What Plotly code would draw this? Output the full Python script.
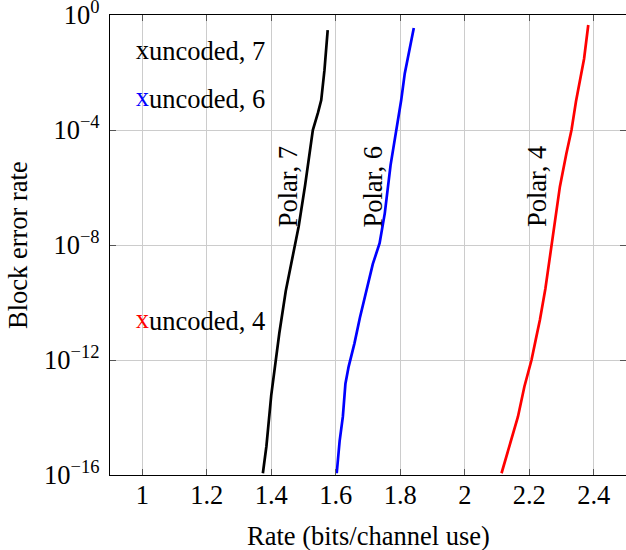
import math
import plotly.graph_objects as go

# Data
polar7_rate = [1.374, 1.385, 1.400, 1.413, 1.425, 1.445, 1.467, 1.485, 1.505, 1.529, 1.545, 1.555, 1.565, 1.575]
polar7_bler = [1.15e-16, 1e-15, 6e-14, 1e-12, 8.5e-12, 2.5e-10, 5.1e-9, 4.4e-8, 1.2e-6, 1e-4, 4e-4, 1.1e-3, 1.2e-2, 0.3]

polar6_rate = [1.603, 1.612, 1.622, 1.630, 1.640, 1.658, 1.675, 1.695, 1.715, 1.736, 1.752, 1.770, 1.788, 1.803, 1.814, 1.828, 1.842]
polar6_bler = [1.15e-16, 1.5e-15, 1.07e-14, 1.5e-13, 5.9e-13, 3.8e-12, 3e-11, 2.7e-10, 2.2e-9, 1.15e-8, 1.26e-7, 6e-6, 1e-4, 1.1e-3, 9.3e-3, 6e-2, 0.35]

polar4_rate = [2.114, 2.140, 2.165, 2.185, 2.207, 2.220, 2.233, 2.250, 2.269, 2.295, 2.315, 2.331, 2.345, 2.357, 2.370, 2.383]
polar4_bler = [1.15e-16, 1.2e-15, 1.07e-14, 1.2e-13, 1e-12, 5e-12, 2.45e-11, 3e-10, 1e-8, 1.07e-6, 1.5e-5, 1e-4, 1e-3, 5.5e-3, 3e-2, 0.45]

uncoded_labels = ["uncoded, 7", "uncoded, 6", "uncoded, 4"]
uncoded_rate = [1.0, 1.0, 1.0]
uncoded_bler = [5e-2, 1.15e-3, 2.15e-11]
uncoded_colors = ["black", "blue", "red"]

polar_labels = ["Polar, 7", "Polar, 6", "Polar, 4"]
polar_label_x = [1.451, 1.715, 2.222]
polar_label_y = [1.07e-6, 1.07e-6, 1.07e-6]

x_ticks = [1, 1.2, 1.4, 1.6, 1.8, 2, 2.2, 2.4]
x_tick_text = ["1", "1.2", "1.4", "1.6", "1.8", "2", "2.2", "2.4"]
y_ticks = [1e0, 1e-4, 1e-8, 1e-12, 1e-16]
y_tick_text = ["10<sup>0</sup>", "10<sup>−4</sup>", "10<sup>−8</sup>", "10<sup>−12</sup>", "10<sup>−16</sup>"]

FONT = "Liberation Serif"
FS = 26.5

# plot area spans x 110..626, y 15..475 in the window (body margin removed below)
L, T = 110, 15
PW, PH = 516, 460
W, H = 626, 550
R = W - L - PW
B = H - T - PH

fig = go.Figure()
for xs, ys, c in [(polar7_rate, polar7_bler, "black"),
                  (polar6_rate, polar6_bler, "blue"),
                  (polar4_rate, polar4_bler, "red")]:
    fig.add_trace(go.Scatter(x=xs, y=ys, mode="lines",
                             line=dict(color=c, width=2.7), showlegend=False))

fig.add_trace(go.Scatter(x=uncoded_rate, y=uncoded_bler, mode="text", text=["x"] * 3,
                         textposition="middle center",
                         textfont=dict(family=FONT, size=FS, color=uncoded_colors),
                         showlegend=False, cliponaxis=False))

for lab, xv, yv in zip(uncoded_labels, uncoded_rate, uncoded_bler):
    fig.add_annotation(x=xv, y=math.log10(yv), yref="y", xref="x", text=lab, showarrow=False,
                       xanchor="left", yanchor="middle", xshift=5, yshift=1,
                       font=dict(family=FONT, size=FS, color="black"))

for lab, xv, yv in zip(polar_labels, polar_label_x, polar_label_y):
    fig.add_annotation(x=xv, y=math.log10(yv), text=lab, showarrow=False, textangle=-90,
                       xanchor="center", yanchor="middle",
                       font=dict(family=FONT, size=FS, color="black"))

fig.add_annotation(xref="paper", yref="paper", x=(18 - 110) / PW, y=0.5, text="Block error rate",
                   xanchor="center", yanchor="middle",
                   showarrow=False, textangle=-90, font=dict(family=FONT, size=FS, color="black"))
fig.add_annotation(xref="paper", yref="paper", x=(368 - 110) / PW, y=(475 - 536) / PH,
                   xanchor="center", yanchor="middle",
                   text="Rate (bits/channel use)", showarrow=False,
                   font=dict(family=FONT, size=FS, color="black"))

fig.update_layout(
    width=W, height=H,
    margin=dict(l=L, r=R, t=T, b=B, autoexpand=False),
    paper_bgcolor="white", plot_bgcolor="white",
    font=dict(family=FONT, size=FS, color="black"),
)
fig.update_xaxes(range=[0.9, 2.5], tickvals=x_ticks, ticktext=x_tick_text, automargin=False,
                 showgrid=True, gridcolor="#cccccc", gridwidth=1,
                 showline=True, linecolor="black", linewidth=1.2, mirror="allticks",
                 ticks="inside", ticklen=6, tickcolor="#555555", zeroline=False,
                 ticklabelstandoff=-4, ticklabeloverflow="allow",
                 tickfont=dict(family=FONT, size=FS))
fig.update_yaxes(type="log", range=[-16, 0], tickvals=y_ticks, ticktext=y_tick_text, automargin=False,
                 showgrid=True, gridcolor="#cccccc", gridwidth=1,
                 showline=True, linecolor="black", linewidth=1.2, mirror="allticks",
                 ticks="inside", ticklen=6, tickcolor="#555555", zeroline=False,
                 ticklabelstandoff=4, ticklabeloverflow="allow",
                 tickfont=dict(family=FONT, size=FS))

fig.write_html("out.html", config={"displayModeBar": False},
               post_script="document.body.style.margin='0';")
